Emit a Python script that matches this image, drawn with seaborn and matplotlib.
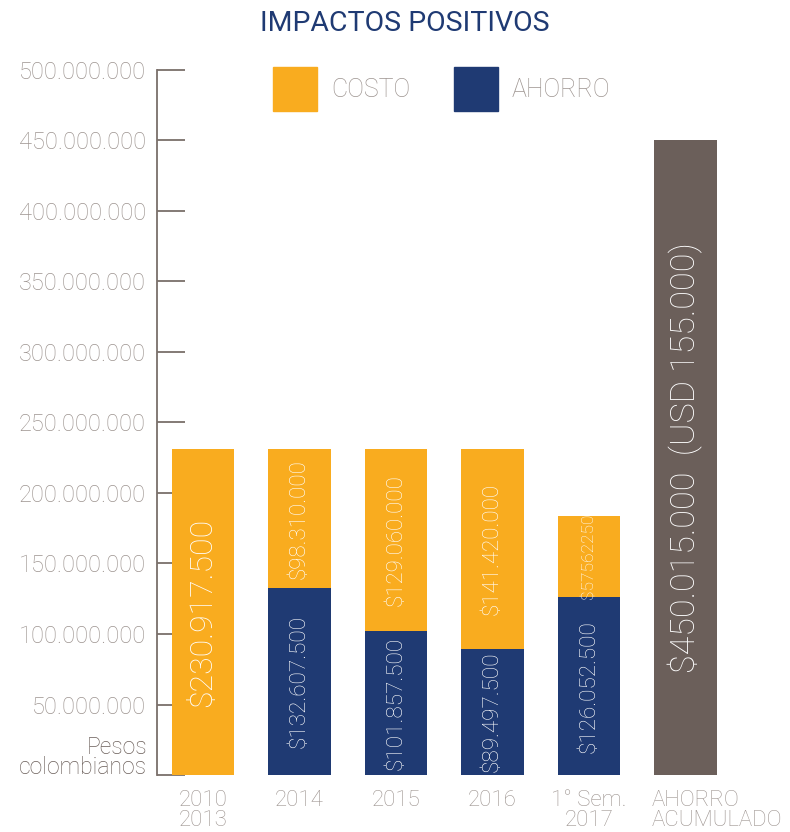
import matplotlib
matplotlib.use("Agg")
import matplotlib.pyplot as plt
import seaborn as sns
import pandas as pd

# --- data -------------------------------------------------------------
categories = ["2010\n2013", "2014", "2015", "2016", "1° Sem.\n2017", "AHORRO\nACUMULADO"]
period_cats = categories[:5]
costo = [230917500, 98310000, 129060000, 141420000, 57562250]
ahorro = [0, 132607500, 101857500, 89497500, 126052500]
acumulado_cat = ["AHORRO\nACUMULADO"]
acumulado = [450015000]
acumulado_usd = "USD 155.000"
y_ticks = [0, 50000000, 100000000, 150000000, 200000000, 250000000,
           300000000, 350000000, 400000000, 450000000, 500000000]

# --- style ------------------------------------------------------------
ORANGE = "#F9AC1F"
NAVY = "#1F3A73"
BROWN = "#6B5F5A"
AXIS = "#7A6F6A"
LIGHT = "#9D9490"

sns.set_theme(style="white")
plt.rcParams["font.family"] = ["Roboto", "DejaVu Sans"]
plt.rcParams["font.weight"] = "light"

fig = plt.figure(figsize=(7.9, 8.32), dpi=100)
ax = fig.add_axes([0.1987, 0.0685, 0.730, 0.8474])

totals = [c + a for c, a in zip(costo, ahorro)]
df = pd.DataFrame({"cat": period_cats, "total": totals, "ahorro": ahorro, "costo": costo})

bar_w = 0.65
# costo sits on top of ahorro: draw the full stack in orange, then ahorro over it
sns.barplot(data=df, x="cat", y="total", order=categories, color=ORANGE,
            width=bar_w, saturation=1, linewidth=0, ax=ax)
sns.barplot(data=df, x="cat", y="ahorro", order=categories, color=NAVY,
            width=bar_w, saturation=1, linewidth=0, ax=ax)
sns.barplot(x=acumulado_cat, y=acumulado, order=categories, color=BROWN,
            width=bar_w, saturation=1, linewidth=0, ax=ax)


def fmt(v, sep="."):
    return "$" + f"{v:,.0f}".replace(",", sep)


LW = "light"
# value labels inside the bars
for i, (c, a) in enumerate(zip(costo, ahorro)):
    if a == 0:
        ax.text(i, c / 2, fmt(c), rotation=90, ha="center", va="center",
                color="white", fontsize=23, fontweight=LW)
        continue
    ax.text(i, a / 2, fmt(a), rotation=90, ha="center", va="center",
            color="white", fontsize=16.2, fontweight=LW)
    small = c < 70000000
    ax.text(i, a + c / 2, fmt(c, "") if small else fmt(c), rotation=90,
            ha="center", va="center", color="white",
            fontsize=12.5 if small else 16, fontweight=LW)

xi = categories.index(acumulado_cat[0])
ax.text(xi, acumulado[0] / 2, f"{fmt(acumulado[0])}  ({acumulado_usd})", rotation=90,
        ha="center", va="center", color="white", fontsize=24.5, fontweight=LW)

# axes
ax.set_xlim(-0.477, 5.5)
ax.set_ylim(0, 500000000)
ax.set_yticks(y_ticks)
ax.set_yticklabels([""] + [f"{t:,.0f}".replace(",", ".") for t in y_ticks[1:]])
ax.set_xlabel("")
ax.set_ylabel("")
for s in ["top", "right", "bottom"]:
    ax.spines[s].set_visible(False)
ax.spines["left"].set_color(AXIS)
ax.spines["left"].set_linewidth(1.3)
ax.tick_params(axis="y", direction="in", length=20, width=1.3, color=AXIS,
               pad=8, labelsize=17, labelcolor=LIGHT, left=True)
ax.tick_params(axis="x", length=0, pad=11, labelsize=16, labelcolor=LIGHT)

# the cumulative column's label hangs from the bar's left edge
xt = list(categories)
xt[xi] = ""
ax.set_xticks(range(len(categories)))
ax.set_xticklabels(xt)
for lbl in ax.get_xticklabels() + ax.get_yticklabels():
    lbl.set_linespacing(0.95)
    lbl.set_fontweight(LW)
ax.annotate(categories[xi], xy=(xi - bar_w / 2, 0), xycoords=("data", "axes fraction"),
            xytext=(-2, -11), textcoords="offset points", ha="left", va="top",
            fontsize=16, color=LIGHT, linespacing=0.95, fontweight=LW)

ax.annotate("Pesos\ncolombianos", xy=(0, 0), xycoords="axes fraction",
            xytext=(-7, -3), textcoords="offset points", ha="right", va="bottom",
            fontsize=16.5, color=BROWN, linespacing=0.85, fontweight=LW)

# title and legend
fig.text(0.513, 0.972, "IMPACTOS POSITIVOS", ha="center", va="center",
         fontsize=20.5, color=NAVY, fontweight="normal")
handles = [plt.Rectangle((0, 0), 1, 1, color=ORANGE),
           plt.Rectangle((0, 0), 1, 1, color=NAVY)]
leg = fig.legend(handles, ["COSTO", "AHORRO"], loc="center", ncol=2,
                 bbox_to_anchor=(0.559, 0.893), frameon=False,
                 handlelength=1.75, handleheight=2.35, handletextpad=0.55,
                 columnspacing=1.75, fontsize=18)
for t in leg.get_texts():
    t.set_color(LIGHT)
    t.set_fontweight(LW)

fig.savefig("out.png", dpi=100, facecolor="white")
